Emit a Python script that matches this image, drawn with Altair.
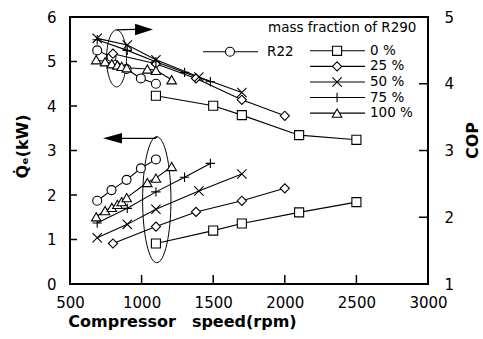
import altair as alt
import pandas as pd

# ---------------- data ----------------
series_names = ["R22", "0 %", "25 %", "50 %", "75 %", "100 %"]

speed_r22 = [690, 790, 895, 995, 1100]
qe_r22 = [1.87, 2.11, 2.34, 2.60, 2.80]
cop_r22 = [4.50, 4.40, 4.22, 4.08, 4.00]

speed_0 = [1100, 1500, 1700, 2100, 2500]
qe_0 = [0.91, 1.20, 1.36, 1.61, 1.84]
cop_0 = [3.82, 3.67, 3.53, 3.23, 3.16]

speed_25 = [800, 1100, 1380, 1700, 2000]
qe_25 = [0.91, 1.29, 1.62, 1.87, 2.15]
cop_25 = [4.45, 4.30, 4.08, 3.76, 3.52]

speed_50 = [690, 900, 1100, 1400, 1700]
qe_50 = [1.04, 1.34, 1.68, 2.09, 2.47]
cop_50 = [4.68, 4.58, 4.36, 4.10, 3.87]

speed_75 = [690, 900, 1100, 1300, 1480]
qe_75 = [1.37, 1.70, 2.07, 2.40, 2.71]
cop_75 = [4.66, 4.50, 4.33, 4.17, 4.03]

speed_100 = [683, 745, 792, 831, 861, 896, 1040, 1100, 1210]
qe_100 = [1.51, 1.65, 1.72, 1.79, 1.85, 1.94, 2.28, 2.38, 2.64]
cop_100 = [4.36, 4.33, 4.30, 4.28, 4.26, 4.24, 4.22, 4.20, 4.06]

x_ticks = [500, 1000, 1500, 2000, 2500, 3000]
left_ticks = [0, 1, 2, 3, 4, 5, 6]
right_ticks = [1, 2, 3, 4, 5]

# legend placement (in data units of speed / Qe)
legend_title = "mass fraction of R290"
legend_title_pos = (1883, 5.75)
legend_r22_y = 5.22
legend_r22_x = (1429, 1617, 1813, 1876)  # line start, symbol, line end, text
legend_rows_y = [5.24, 4.89, 4.54, 4.19, 3.84]
legend_cols_x = (2176, 2365, 2560, 2595)

# annotation ellipses / arrows (data units)
ellipse_lo = (1106, 1.894)
ellipse_up = (825, 5.07)
arrow_up_shaft_v = [825, 954]
arrow_up_shaft_y = [5.71, 5.72]
arrow_up_head = (1017, 5.72)
arrow_lo_shaft_v = [863, 1094, 1108]
arrow_lo_shaft_y = [3.274, 3.274, 3.31]
arrow_lo_head = (797, 3.274)

# ---------------- styles ----------------
shapes = ["circle", "square", "diamond",
          "M-1,-1L1,1M-1,1L1,-1",
          "M-1,0L1,0M0,-1L0,1",
          "triangle-up"]
sizes = [80, 90, 100, 80, 140, 95]
FONT = "DejaVu Sans"

speeds = [speed_r22, speed_0, speed_25, speed_50, speed_75, speed_100]
qes = [qe_r22, qe_0, qe_25, qe_50, qe_75, qe_100]
cops = [cop_r22, cop_0, cop_25, cop_50, cop_75, cop_100]

rows_q, rows_c = [], []
for name, sp, q, c in zip(series_names, speeds, qes, cops):
    for a, b, d in zip(sp, q, c):
        rows_q.append({"s": name, "v": a, "y": b})
        rows_c.append({"s": name, "v": a, "y": d})
df_q = pd.DataFrame(rows_q)
df_c = pd.DataFrame(rows_c)

xaxis = alt.Axis(values=x_ticks, ticks=False, domain=False, grid=False, format="d",
                 labelFont=FONT, labelFontSize=15, labelColor="black",
                 labelPadding=11, labelFlush=False, labelOverlap=False,
                 title="Compressor\u2003speed(rpm)", titleFont=FONT,
                 titleFontWeight="bold", titleFontSize=16, titleColor="black",
                 titleX=112, titleY=37, titleAlign="center", titleBaseline="middle")
yaxis_l = alt.Axis(values=left_ticks, ticks=False, domain=False, grid=False,
                   labelFont=FONT, labelFontSize=15, labelColor="black",
                   labelPadding=14, labelFlush=False, format="d",
                   title="Q\u0307\u2091(kW)", titleFont=FONT, titleFontWeight="bold",
                   titleFontSize=16, titleColor="black", titleAngle=-90,
                   titleX=-48, titleY=129, titleAlign="center", titleBaseline="middle")
yaxis_r = alt.Axis(orient="right", values=right_ticks, ticks=False, domain=False,
                   grid=False, labelFont=FONT, labelFontSize=15, labelColor="black",
                   labelPadding=16, labelFlush=False, format="d",
                   title="COP", titleFont=FONT, titleFontWeight="bold",
                   titleFontSize=16, titleColor="black", titleAngle=-90,
                   titleX=44, titleY=123, titleAlign="center", titleBaseline="middle")

xscale = alt.Scale(domain=[500, 3000], nice=False, zero=False)
yl_scale = alt.Scale(domain=[0, 6], nice=False, zero=False)
yr_scale = alt.Scale(domain=[1, 5], nice=False, zero=False)


def X(field="v"):
    return alt.X(f"{field}:Q", scale=xscale, axis=xaxis)


def X2(field):
    return alt.X2(f"{field}:Q")


def YL(field="y"):
    return alt.Y(f"{field}:Q", scale=yl_scale, axis=yaxis_l)


def YR(field="y"):
    return alt.Y(f"{field}:Q", scale=yr_scale, axis=yaxis_r)


shape_enc = alt.Shape("s:N", scale=alt.Scale(domain=series_names, range=shapes), legend=None)
size_enc = alt.Size("s:O", scale=alt.Scale(domain=series_names, range=sizes), legend=None)


def point_mark():
    return dict(filled=True, fill="white", stroke="black", strokeWidth=1.1,
                opacity=1, fillOpacity=1)


# ---------------- left (Qe) layer ----------------
lines_q = alt.Chart(df_q).mark_line(color="black", strokeWidth=1.1).encode(
    x=X(), y=YL(), detail="s:N")
points_q = alt.Chart(df_q).mark_point(**point_mark()).encode(
    x=X(), y=YL(), shape=shape_enc, size=size_enc)

# legend
leg_rows = [{"s": "R22", "x1": legend_r22_x[0], "xm": legend_r22_x[1],
             "x2": legend_r22_x[2], "xt": legend_r22_x[3], "y": legend_r22_y}]
for name, yy in zip(series_names[1:], legend_rows_y):
    leg_rows.append({"s": name, "x1": legend_cols_x[0], "xm": legend_cols_x[1],
                     "x2": legend_cols_x[2], "xt": legend_cols_x[3], "y": yy})
df_leg = pd.DataFrame(leg_rows)
leg_lines = alt.Chart(df_leg).mark_rule(color="black", strokeWidth=1.1).encode(
    x=X("x1"), x2=X2("x2"), y=YL())
leg_pts = alt.Chart(df_leg).mark_point(**point_mark()).encode(
    x=X("xm"), y=YL(), shape=shape_enc, size=size_enc)
leg_txt = alt.Chart(df_leg).mark_text(align="left", baseline="middle", fontSize=13.5,
                                      font=FONT, color="black").encode(
    x=X("xt"), y=YL(), text="s:N")
df_lt = pd.DataFrame([{"v": legend_title_pos[0], "y": legend_title_pos[1], "t": legend_title}])
leg_title = alt.Chart(df_lt).mark_text(align="left", baseline="middle", fontSize=13.5,
                                       font=FONT, color="black").encode(
    x=X(), y=YL(), text="t:N")

# annotations
df_el_lo = pd.DataFrame([{"v": ellipse_lo[0], "y": ellipse_lo[1]}])
df_el_up = pd.DataFrame([{"v": ellipse_up[0], "y": ellipse_up[1]}])
ell_lo = alt.Chart(df_el_lo).mark_point(
    shape="M0,-1 A0.225,1 0 1,1 0,1 A0.225,1 0 1,1 0,-1 Z",
    size=15876, filled=False, stroke="black", strokeWidth=1, opacity=1).encode(
    x=X(), y=YL())
ell_up = alt.Chart(df_el_up).mark_point(
    shape="M0,-1 A0.35,1 0 1,1 0,1 A0.35,1 0 1,1 0,-1 Z",
    size=3249, filled=False, stroke="black", strokeWidth=1, opacity=1).encode(
    x=X(), y=YL())

df_shafts = pd.DataFrame(
    [{"s": "up", "v": a, "y": b} for a, b in zip(arrow_up_shaft_v, arrow_up_shaft_y)] +
    [{"s": "lo", "v": a, "y": b} for a, b in zip(arrow_lo_shaft_v, arrow_lo_shaft_y)])
shafts = alt.Chart(df_shafts).mark_line(color="black", strokeWidth=1.2).encode(
    x=X(), y=YL(), detail="s:N")
head_up = alt.Chart(pd.DataFrame([{"v": arrow_up_head[0], "y": arrow_up_head[1]}])).mark_point(
    shape="M-1,-0.63L1,0L-1,0.63Z", size=324, filled=True, color="black", opacity=1).encode(
    x=X(), y=YL())
head_lo = alt.Chart(pd.DataFrame([{"v": arrow_lo_head[0], "y": arrow_lo_head[1]}])).mark_point(
    shape="M1,-0.55L-1,0L1,0.55Z", size=361, filled=True, color="black", opacity=1).encode(
    x=X(), y=YL())

# inward ticks
df_xt = pd.DataFrame({"v": x_ticks[1:-1]})
xticks_r = alt.Chart(df_xt).mark_rule(color="black", strokeWidth=1.5).encode(
    x=X(), y=alt.value(267), y2=alt.value(258))
df_lt2 = pd.DataFrame({"y": left_ticks[1:-1]})
lticks_r = alt.Chart(df_lt2).mark_rule(color="black", strokeWidth=1.5).encode(
    y=YL(), x=alt.value(0), x2=alt.value(7))

left = alt.layer(xticks_r, lticks_r, ell_lo, ell_up, shafts, head_up, head_lo,
                 lines_q, points_q, leg_lines, leg_pts, leg_txt, leg_title)

# ---------------- right (COP) layer ----------------
lines_c = alt.Chart(df_c).mark_line(color="black", strokeWidth=1.1).encode(
    x=X(), y=YR(), detail="s:N")
points_c = alt.Chart(df_c).mark_point(**point_mark()).encode(
    x=X(), y=YR(), shape=shape_enc, size=size_enc)
df_rt = pd.DataFrame({"y": right_ticks[1:-1]})
rticks_r = alt.Chart(df_rt).mark_rule(color="black", strokeWidth=1.5).encode(
    y=YR(), x=alt.value(358), x2=alt.value(349))
right = alt.layer(rticks_r, lines_c, points_c)

chart = alt.layer(left, right).resolve_scale(y="independent").properties(
    width=358, height=267,
    padding={"left": 70, "top": 17, "right": 55, "bottom": 55},
    autosize=alt.AutoSizeParams(type="none"),
    background="white",
).configure(font=FONT).configure_view(stroke="black", strokeWidth=2)

chart.save("out.html", embed_options={"renderer": "svg", "actions": False})
